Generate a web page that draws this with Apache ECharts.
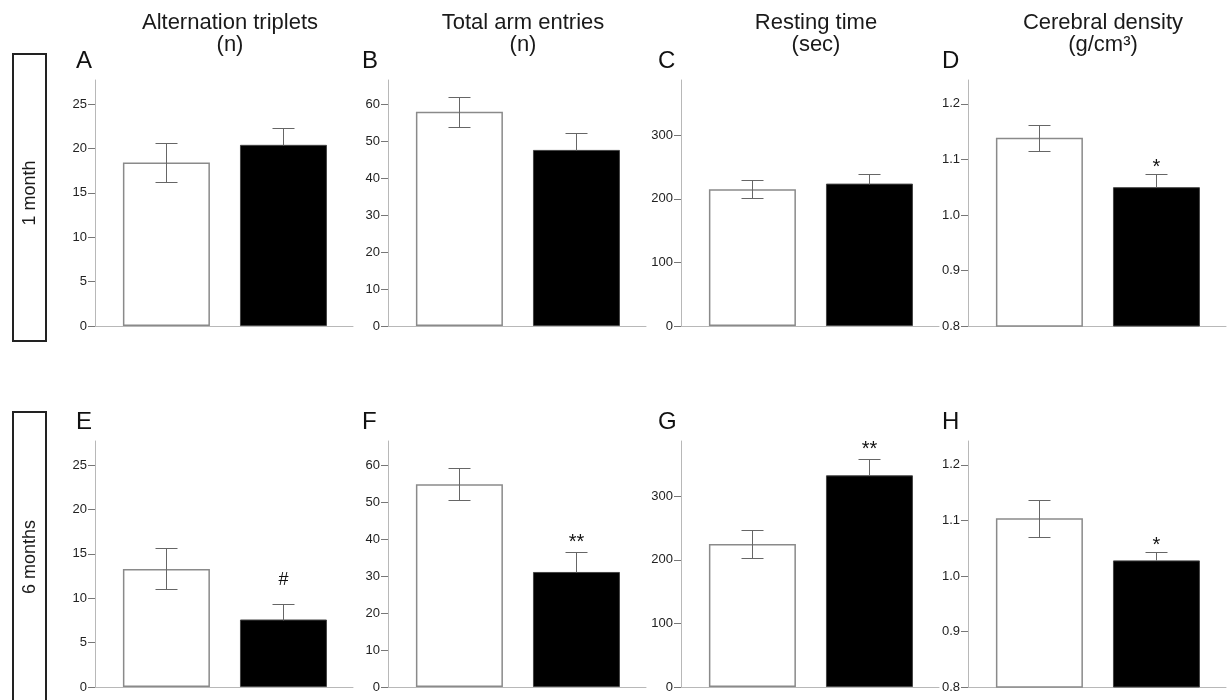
<!DOCTYPE html>
<html>
<head>
<meta charset="utf-8">
<script src="https://cdn.jsdelivr.net/npm/echarts@6/dist/echarts.min.js"></script>
<style>
  html, body { margin: 0; padding: 0; background: #fff; }
  #chart { width: 1227px; height: 700px; }
</style>
</head>
<body>
<div id="chart"></div>
<script>
// groups: open bars / filled bars
const groups = ['Control', 'Treated'];
const measures = ['Alternation triplets', 'Total arm entries', 'Resting time', 'Cerebral density'];
const units = ['(n)', '(n)', '(sec)', '(g/cm³)'];
const ages = ['1 month', '6 months'];
const panelLetters = [['A', 'B', 'C', 'D'], ['E', 'F', 'G', 'H']];

// mean values per measure [control, treated]
const month1Means = [[18.4, 20.4], [57.9, 47.6], [215, 224], [1.139, 1.050]];
const month1Sem = [[2.15, 1.9], [4.05, 4.6], [14, 14.5], [0.023, 0.023]];
const month1Marks = [['', ''], ['', ''], ['', ''], ['', '*']];

const month6Means = [[13.3, 7.6], [54.8, 31.1], [225, 333], [1.104, 1.028]];
const month6Sem = [[2.3, 1.8], [4.3, 5.5], [22.5, 26], [0.033, 0.016]];
const month6Marks = [['', '#'], ['', '**'], ['', '**'], ['', '*']];

// y axes, one per measure column
const yTicks = [
    [0, 5, 10, 15, 20, 25],
    [0, 10, 20, 30, 40, 50, 60],
    [0, 100, 200, 300],
    [0.8, 0.9, 1.0, 1.1, 1.2]
];
const yMin = [0, 0, 0, 0.8];
const yMax = [27.7, 66.5, 387, 1.243];
const yDecimals = [0, 0, 0, 1];

// layout
const colX = [95, 388, 681, 968];
const letterX = [76, 362, 658, 942];
const rowTop = [80, 441];
const plotW = 258, plotH = 246;
const FONT = '"Liberation Sans", Arial, sans-serif';
const barStyles = [
    { color: '#ffffff', borderColor: '#8a8a8a', borderWidth: 1.5 },
    { color: '#000000', borderColor: '#444', borderWidth: 1 }
];
const markGap = { '*': 7.5, '**': 10, '#': 24 };
const markSize = { '*': 20, '**': 20, '#': 18 };

const rows = [
    { means: month1Means, sem: month1Sem, marks: month1Marks },
    { means: month6Means, sem: month6Sem, marks: month6Marks }
];

function errorRenderer(marks) {
    return function (params, api) {
        const gi = api.value(0), mean = api.value(1), sem = api.value(2);
        const top = api.coord([gi, mean + sem]);
        const base = api.coord([gi, gi === 0 ? mean - sem : mean]);
        const x = Math.round(top[0]) + 0.5;
        const yt = Math.round(top[1]) + 0.5;
        const yb = Math.round(base[1]) + 0.5;
        const half = 11;
        const style = { stroke: '#666', lineWidth: 1 };
        const kids = [
            { type: 'line', shape: { x1: x, y1: yt, x2: x, y2: yb }, style: style },
            { type: 'line', shape: { x1: x - half, y1: yt, x2: x + half, y2: yt }, style: style }
        ];
        if (gi === 0) {
            kids.push({ type: 'line', shape: { x1: x - half, y1: yb, x2: x + half, y2: yb }, style: style });
        }
        const mark = marks[params.dataIndex];
        if (mark) {
            kids.push({
                type: 'text',
                x: x,
                y: yt - markGap[mark],
                style: {
                    text: mark,
                    font: markSize[mark] + 'px ' + FONT,
                    fill: '#111',
                    align: 'center',
                    verticalAlign: 'middle'
                }
            });
        }
        return { type: 'group', children: kids };
    };
}

const grid = [], xAxis = [], yAxis = [], series = [], graphic = [];

rows.forEach((row, r) => {
    measures.forEach((m, c) => {
        const idx = grid.length;
        grid.push({ left: colX[c], top: rowTop[r], width: plotW, height: plotH, outerBoundsMode: 'none' });
        xAxis.push({
            gridIndex: idx, type: 'value', min: -0.61, max: 1.594,
            axisLine: { show: true, onZero: false, lineStyle: { color: '#b8b8b8', width: 1 } },
            axisTick: { show: false }, axisLabel: { show: false }, splitLine: { show: false }
        });
        yAxis.push({
            gridIndex: idx, type: 'value', min: yMin[c], max: yMax[c],
            axisLine: { show: true, onZero: false, lineStyle: { color: '#b8b8b8', width: 1 } },
            axisTick: { show: true, length: 7, customValues: yTicks[c], lineStyle: { color: '#777' } },
            axisLabel: {
                customValues: yTicks[c], margin: 8, color: '#222', fontSize: 13, fontFamily: FONT,
                formatter: v => Number(v).toFixed(yDecimals[c])
            },
            splitLine: { show: false }
        });
        series.push({
            type: 'bar', xAxisIndex: idx, yAxisIndex: idx, barWidth: 87,
            data: groups.map((g, gi) => ({ name: g, value: [gi, row.means[c][gi]], itemStyle: barStyles[gi] })),
            animation: false
        });
        series.push({
            type: 'custom', xAxisIndex: idx, yAxisIndex: idx, z: 5, clip: false,
            renderItem: errorRenderer(row.marks[c]),
            data: groups.map((g, gi) => [gi, row.means[c][gi], row.sem[c][gi]]),
            animation: false
        });

        // panel letter
        graphic.push({
            type: 'text', x: letterX[c], y: rowTop[r] - 19,
            style: { text: panelLetters[r][c], font: '24px ' + FONT, fill: '#111', verticalAlign: 'middle' }
        });
    });
});

// column headers
measures.forEach((m, c) => {
    graphic.push({
        type: 'text', x: colX[c] + 135, y: 12,
        style: {
            text: m + '\n' + units[c], font: '22px ' + FONT, lineHeight: 22,
            fill: '#1a1a1a', align: 'center', verticalAlign: 'top'
        }
    });
});

// row label boxes
const boxes = [[13, 54, 33, 287], [13, 412, 33, 292]];
ages.forEach((a, r) => {
    const b = boxes[r];
    graphic.push({
        type: 'rect', shape: { x: b[0], y: b[1], width: b[2], height: b[3] },
        style: { fill: 'none', stroke: '#222', lineWidth: 2 }
    });
    graphic.push({
        type: 'text', x: b[0] + b[2] / 2 + 0.5, y: r === 0 ? 193 : 557, rotation: Math.PI / 2,
        style: { text: a, font: '18px ' + FONT, fill: '#1a1a1a', align: 'center', verticalAlign: 'middle' }
    });
});

const chart = echarts.init(document.getElementById('chart'), null, { renderer: 'canvas' });
chart.setOption({
    backgroundColor: '#fff',
    animation: false,
    grid: grid,
    xAxis: xAxis,
    yAxis: yAxis,
    series: series,
    graphic: graphic
});
</script>
</body>
</html>
